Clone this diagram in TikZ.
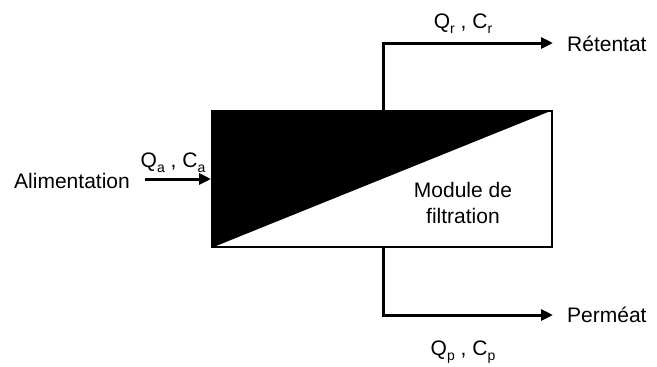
\documentclass[tikz,border=0pt]{standalone}
\usepackage{fontspec}
\setmainfont{Liberation Sans}
\usetikzlibrary{arrows.meta}
\newcommand{\lowsub}[1]{\raisebox{-0.45ex}{\fontsize{14}{14}\selectfont #1}}
\begin{document}
\begin{tikzpicture}[x=1pt,y=-1pt,
  lbl/.style={inner sep=0pt,font=\fontsize{21}{26}\selectfont},
  flow/.style={line width=3pt,-{Triangle[length=12pt,width=11pt]}},
  modbox/.style={draw,line width=2pt,minimum width=340pt,minimum height=136pt,inner sep=0pt}]
\useasboundingbox (0,0) rectangle (657,367);
\fill[white] (0,0) rectangle (657,367);
\node[modbox] (box) at (382,179) {};
\fill (box.north west) -- (box.north east) -- (box.south west) -- cycle;
\node[modbox] at (box.center) {};
\node[lbl,align=center] (mod) at (463,203) {Module de\\filtration};
% feed
\node[lbl,anchor=east] (alim) at (130,181) {Alimentation};
\coordinate (fstart) at (145,179);
\draw[flow] (fstart) -- (box.west);
\node[lbl] (qa) at (173,163) {Q\lowsub{a} , C\lowsub{a}};
% retentate
\node[lbl,anchor=west] (ret) at (567,44) {Rétentat};
\coordinate (rend) at (553,43);
\coordinate (rbase) at (383,111);
\draw[flow] (rbase) |- (rend);
\node[lbl] (qr) at (463,24) {Q\lowsub{r} , C\lowsub{r}};
% permeate
\node[lbl,anchor=west] (perm) at (567,315) {Perméat};
\coordinate (pend) at (553,315);
\coordinate (pbase) at (383,247);
\draw[flow] (pbase) |- (pend);
\node[lbl] (qp) at (463,352) {Q\lowsub{p} , C\lowsub{p}};
\end{tikzpicture}
\end{document}
